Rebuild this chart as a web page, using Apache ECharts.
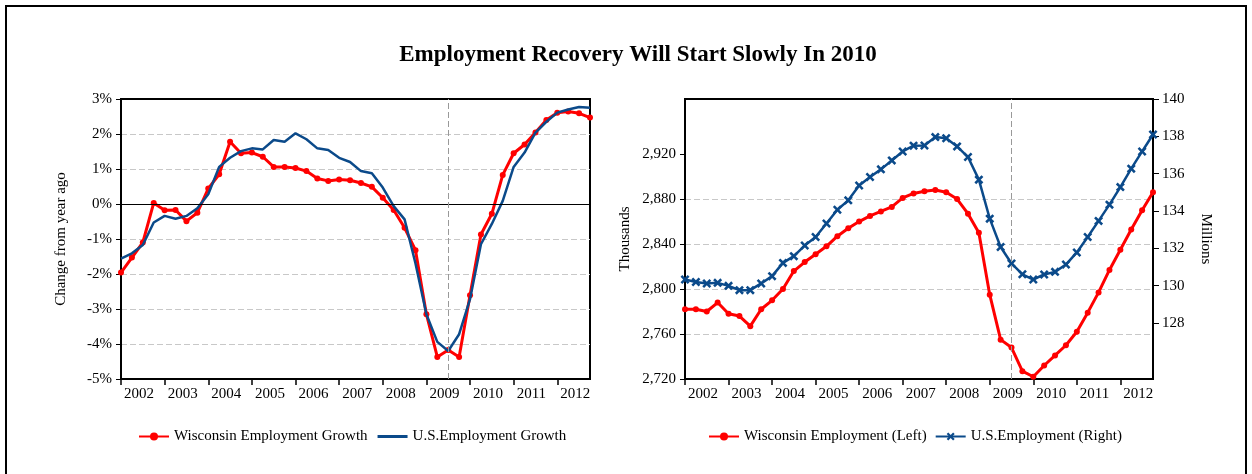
<!DOCTYPE html>
<html><head><meta charset="utf-8">
<script src="https://cdn.jsdelivr.net/npm/echarts@6/dist/echarts.min.js"></script>
<style>html,body{margin:0;padding:0;background:#fff}#c{width:1252px;height:474px}</style>
</head><body><div id="c"></div>
<script>
const years = ['2002','2003','2004','2005','2006','2007','2008','2009','2010','2011','2012'];
const quarters = [];
years.forEach(y => ['Q1','Q2','Q3','Q4'].forEach(q => quarters.push(y + q)));
const wiGrowth = [-1.96,-1.53,-1.10,0.03, -0.18,-0.17,-0.49,-0.25, 0.44,0.85,1.78,1.45, 1.47,1.35,1.06,1.06, 1.03,0.94,0.73,0.66, 0.70,0.68,0.60,0.49, 0.18,-0.17,-0.68,-1.32, -3.15,-4.37,-4.17,-4.37, -2.61,-0.87,-0.28,0.83, 1.45,1.70,2.04,2.40, 2.61,2.64,2.59,2.47];
const usGrowth = [-1.56,-1.41,-1.17,-0.53, -0.34,-0.42,-0.34,-0.12, 0.28,1.06,1.32,1.51, 1.59,1.56,1.83,1.78, 2.02,1.85,1.59,1.54, 1.32,1.20,0.94,0.88, 0.47,-0.06,-0.44,-1.70, -3.15,-3.94,-4.20,-3.72, -2.72,-1.15,-0.57,0.09, 1.06,1.47,2.04,2.35, 2.61,2.70,2.77,2.75];
const wiEmp = [2782,2782,2780,2788, 2778,2776,2767,2782, 2790,2800,2816,2824, 2831,2838,2847,2854, 2860,2865,2869,2873, 2881,2885,2887,2888, 2886,2880,2867,2850, 2795,2755,2748,2727, 2722,2732,2741,2750, 2762,2779,2797,2817, 2835,2853,2870,2886];
const usEmp = [130.33,130.20,130.12,130.15, 129.99,129.76,129.76,130.12, 130.51,131.22,131.58,132.15, 132.61,133.33,134.07,134.57, 135.37,135.82,136.23,136.71, 137.19,137.50,137.51,137.96, 137.90,137.46,136.89,135.68, 133.59,132.07,131.19,130.61, 130.33,130.60,130.74,131.13, 131.78,132.61,133.47,134.34, 135.28,136.27,137.19,138.10];
const growthTicks = [-5,-4,-3,-2,-1,0,1,2,3];
const empLeftTicks = [2720,2760,2800,2840,2880,2920];
const empRightTicks = [128,130,132,134,136,138,140];
const recessionEnd = '2009Q3';

const FONT = '"Liberation Serif", "Times New Roman", serif';
const RED = '#ff0000', BLUE = '#0b4a8a';
const xSym = 'path://M0,2 L2,0 L5,3 L8,0 L10,2 L7,5 L10,8 L8,10 L5,7 L2,10 L0,8 L3,5 Z';
const lineIcon = 'path://M0,0 L30,0 L30,3 L0,3 Z';
const txt = {color:'#000', fontFamily: FONT, fontSize: 15};
const isQ1 = (i, v) => String(v).endsWith('Q1');

function xAxis(g) {
  return {
    type:'category', gridIndex:g, data:quarters, boundaryGap:false,
    axisLine:{onZero:false, lineStyle:{color:'#000', width:2}},
    axisTick:{interval:isQ1, length:6, lineStyle:{color:'#000', width:1.5}},
    axisLabel:Object.assign({interval:isQ1, formatter:v=>v.slice(0,4), align:'left', margin:8, padding:[0,0,0,3]}, txt),
    splitLine:{show:false}
  };
}
const dashed = {show:true, showMinLine:false, showMaxLine:false, lineStyle:{color:'#c8c8c8', type:[6,3], width:1}};

const chart = echarts.init(document.getElementById('c'));
chart.setOption({
  animation:false,
  backgroundColor:'#fff',
  graphic:[
    {type:'rect', shape:{x:6, y:6, width:1240, height:480}, style:{fill:'none', stroke:'#000', lineWidth:2}},
    {type:'text', x:638, y:55, style:{text:'Employment Recovery Will Start Slowly In 2010', textAlign:'center', textVerticalAlign:'middle', font:'bold 23px ' + FONT, fill:'#000'}}
  ],
  grid:[
    {left:121, top:99, width:469, height:280, show:true, borderColor:'#000', borderWidth:2, backgroundColor:'transparent'},
    {left:685, top:99, width:468, height:280, show:true, borderColor:'#000', borderWidth:2, backgroundColor:'transparent'}
  ],
  xAxis:[xAxis(0), xAxis(1)],
  yAxis:[
    {type:'value', gridIndex:0, min:growthTicks[0], max:growthTicks[growthTicks.length-1], interval:1,
     axisLine:{show:true, lineStyle:{color:'#000', width:2}},
     axisTick:{show:true, length:5, lineStyle:{color:'#000'}},
     axisLabel:Object.assign({formatter:'{value}%', margin:9}, txt),
     splitLine:dashed,
     name:'Change from year ago', nameLocation:'middle', nameGap:52, nameRotate:90, nameTextStyle:txt},
    {type:'value', gridIndex:1, min:2720, max:2969, position:'left',
     axisLine:{show:true, lineStyle:{color:'#000', width:2}},
     axisTick:{show:true, length:5, customValues:empLeftTicks, lineStyle:{color:'#000'}},
     axisLabel:Object.assign({customValues:empLeftTicks, formatter:v=>Number(v).toLocaleString('en-US'), margin:9}, txt),
     splitLine:dashed,
     name:'Thousands', nameLocation:'middle', nameGap:52, nameRotate:90, nameTextStyle:txt},
    {type:'value', gridIndex:1, min:125, max:140, position:'right',
     axisLine:{show:true, lineStyle:{color:'#000', width:2}},
     axisTick:{show:true, length:6, customValues:empRightTicks, lineStyle:{color:'#000'}},
     axisLabel:Object.assign({customValues:empRightTicks, margin:9}, txt),
     splitLine:{show:false},
     name:'Millions', nameLocation:'middle', nameGap:45, nameRotate:-90, nameTextStyle:txt}
  ],
  legend:[
    {data:['Wisconsin Employment Growth', {name:'U.S.Employment Growth', icon:lineIcon}], left:133, top:424, itemWidth:30, itemHeight:10, itemGap:10, symbolKeepAspect:true, textStyle:txt},
    {data:['Wisconsin Employment (Left)','U.S.Employment (Right)'], left:703, top:424, itemWidth:30, itemHeight:10, itemGap:8, textStyle:txt}
  ],
  series:[
    {name:'Wisconsin Employment Growth', type:'line', xAxisIndex:0, yAxisIndex:0, data:wiGrowth,
     symbol:'circle', symbolSize:6, showSymbol:true, showAllSymbol:true, lineStyle:{color:RED, width:3}, itemStyle:{color:RED}, z:2,
     markLine:{silent:true, symbol:'none', label:{show:false}, animation:false,
       data:[{yAxis:0, lineStyle:{color:'#000', type:'solid', width:1}},
             {xAxis:recessionEnd, lineStyle:{color:'#999', type:[6,3], width:1}}]}},
    {name:'U.S.Employment Growth', type:'line', xAxisIndex:0, yAxisIndex:0, data:usGrowth,
     symbol:'none', lineStyle:{color:BLUE, width:2.5}, itemStyle:{color:BLUE}, z:3},
    {name:'Wisconsin Employment (Left)', type:'line', xAxisIndex:1, yAxisIndex:1, data:wiEmp,
     symbol:'circle', symbolSize:6, showSymbol:true, showAllSymbol:true, lineStyle:{color:RED, width:3}, itemStyle:{color:RED}, z:2,
     markLine:{silent:true, symbol:'none', label:{show:false}, animation:false,
       data:[{xAxis:recessionEnd, lineStyle:{color:'#999', type:[6,3], width:1}}]}},
    {name:'U.S.Employment (Right)', type:'line', xAxisIndex:1, yAxisIndex:2, data:usEmp,
     symbol:xSym, symbolSize:9, showSymbol:true, showAllSymbol:true, lineStyle:{color:BLUE, width:2.5}, itemStyle:{color:BLUE}, z:3}
  ]
});
</script></body></html>
